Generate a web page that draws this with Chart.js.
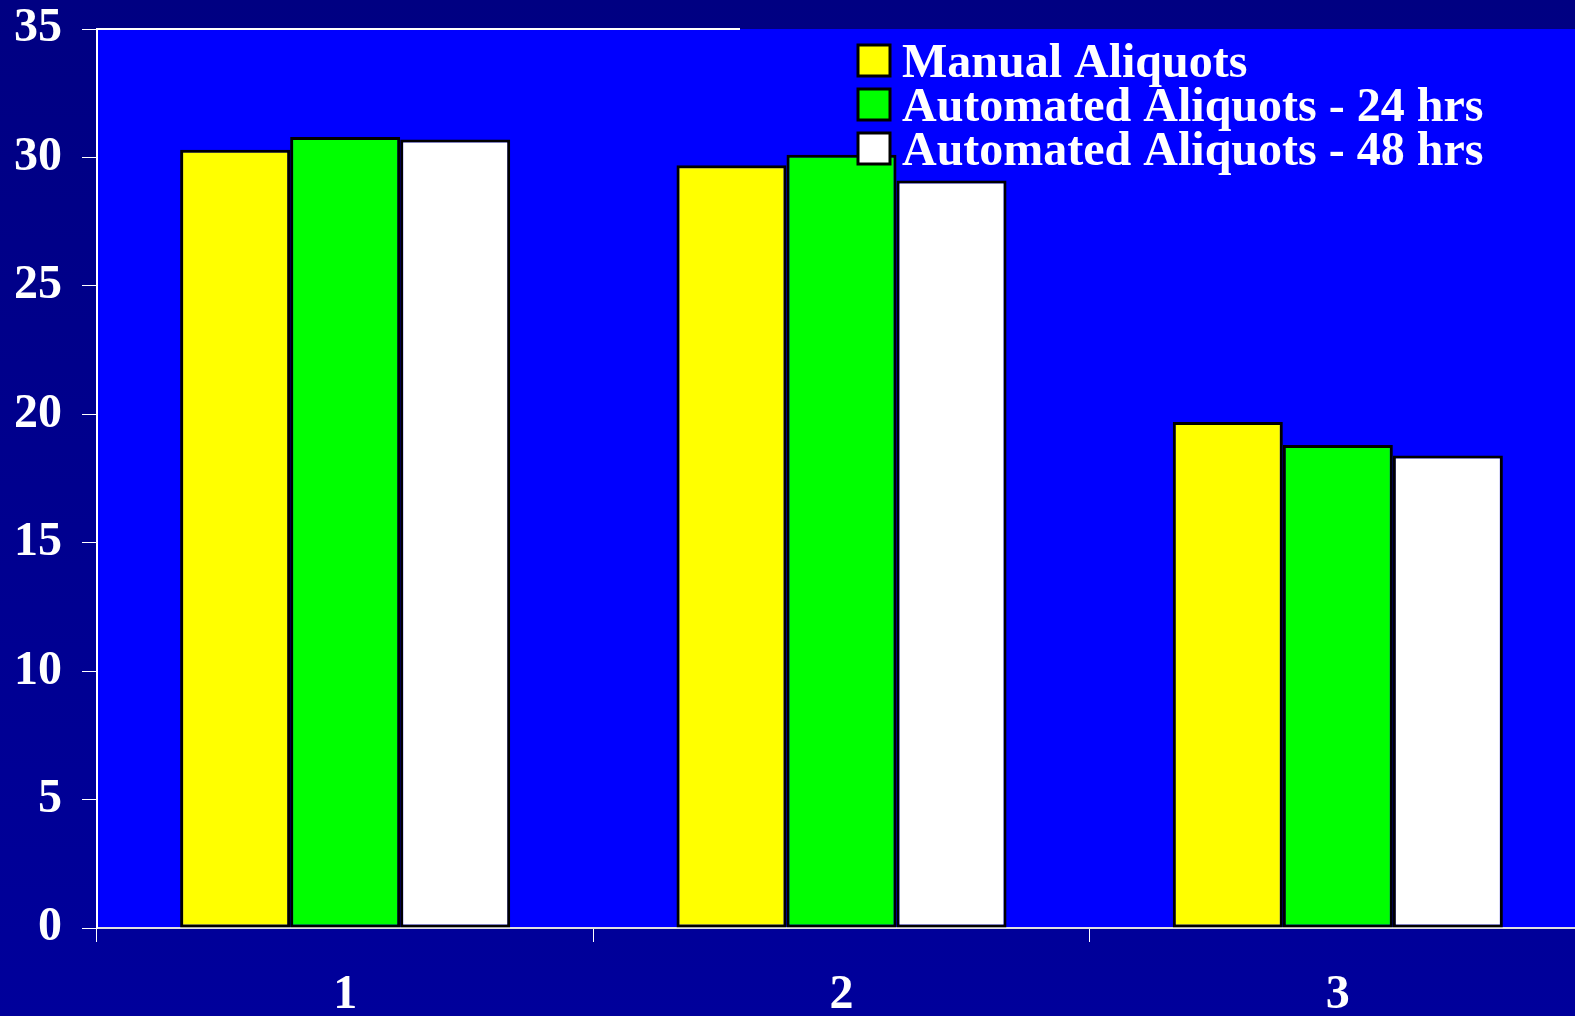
<!DOCTYPE html>
<html>
<head>
<meta charset="utf-8">
<script src="https://cdn.jsdelivr.net/npm/chart.js@4.4.0/dist/chart.umd.min.js"></script>
<style>
  html, body { margin: 0; padding: 0; width: 1575px; height: 1016px; overflow: hidden; }
  body { background: linear-gradient(to bottom, #000082, #00009b); }
  #chart { position: absolute; left: 0; top: 0; }
</style>
</head>
<body>
<canvas id="chart" width="1586" height="1016"></canvas>
<script>
const categories = ['1', '2', '3'];
const manualAliquots = [30.3, 29.7, 19.7];
const automated24 = [30.8, 30.1, 18.8];
const automated48 = [30.7, 29.1, 18.4];
const seriesNames = ['Manual Aliquots', 'Automated Aliquots - 24 hrs', 'Automated Aliquots - 48 hrs'];
const seriesColors = ['#ffff00', '#00ff00', '#ffffff'];

const font = { family: '"Liberation Serif", "Times New Roman", serif', size: 48, weight: 'bold' };

// blue plot area + partial top border
const plotBackground = {
  id: 'plotBackground',
  beforeDraw(chart) {
    const { ctx, chartArea } = chart;
    ctx.save();
    ctx.fillStyle = '#0000ff';
    ctx.fillRect(chartArea.left, chartArea.top, chartArea.right - chartArea.left, chartArea.bottom - chartArea.top);
    ctx.strokeStyle = '#ffffff';
    ctx.lineWidth = 2;
    ctx.beginPath();
    ctx.moveTo(chartArea.left, chartArea.top);
    ctx.lineTo(740, chartArea.top);
    ctx.stroke();
    ctx.restore();
  }
};

// legend drawn on top of the bars
const boxLegend = {
  id: 'boxLegend',
  afterDatasetsDraw(chart) {
    const { ctx, chartArea } = chart;
    const x = chartArea.left + 761;
    const y = chartArea.top + 16;
    ctx.save();
    ctx.font = 'bold 48px "Liberation Serif", "Times New Roman", serif';
    ctx.textBaseline = 'middle';
    chart.data.datasets.forEach((ds, i) => {
      const by = y + i * 44;
      ctx.fillStyle = ds.backgroundColor;
      ctx.fillRect(x, by, 32, 31);
      ctx.strokeStyle = '#000000';
      ctx.lineWidth = 3;
      ctx.strokeRect(x, by, 32, 31);
      ctx.fillStyle = '#ffffff';
      ctx.fillText(ds.label, x + 44, by + 20);
    });
    ctx.restore();
  }
};

new Chart(document.getElementById('chart'), {
  type: 'bar',
  data: {
    labels: categories,
    datasets: [manualAliquots, automated24, automated48].map((data, i) => ({
      label: seriesNames[i],
      data,
      backgroundColor: seriesColors[i],
      borderColor: '#000000',
      borderWidth: 3,
      borderSkipped: false,
      categoryPercentage: 0.665,
      barPercentage: 1.0
    }))
  },
  options: {
    responsive: false,
    animation: false,
    devicePixelRatio: 1,
    layout: { padding: { top: 29, right: 0, left: 0, bottom: 0 } },
    plugins: { legend: { display: false }, tooltip: { enabled: false } },
    scales: {
      x: {
        grid: { drawOnChartArea: false, color: '#ffffff', tickLength: 14, offset: true },
        border: { color: '#e0e0e0', width: 2 },
        ticks: { color: '#ffffff', font, padding: 25 },
        afterFit(scale) { scale.height = 88; }
      },
      y: {
        min: 0,
        max: 35,
        ticks: { stepSize: 5, color: '#ffffff', font, padding: 20 },
        grid: { drawOnChartArea: false, color: '#ffffff', tickLength: 15 },
        border: { color: '#ffffff', width: 2 },
        afterFit(scale) {
          scale.width = 97;
          scale.paddingTop = 0;
          scale.paddingBottom = 0;
        }
      }
    }
  },
  plugins: [plotBackground, boxLegend]
});
</script>
</body>
</html>
